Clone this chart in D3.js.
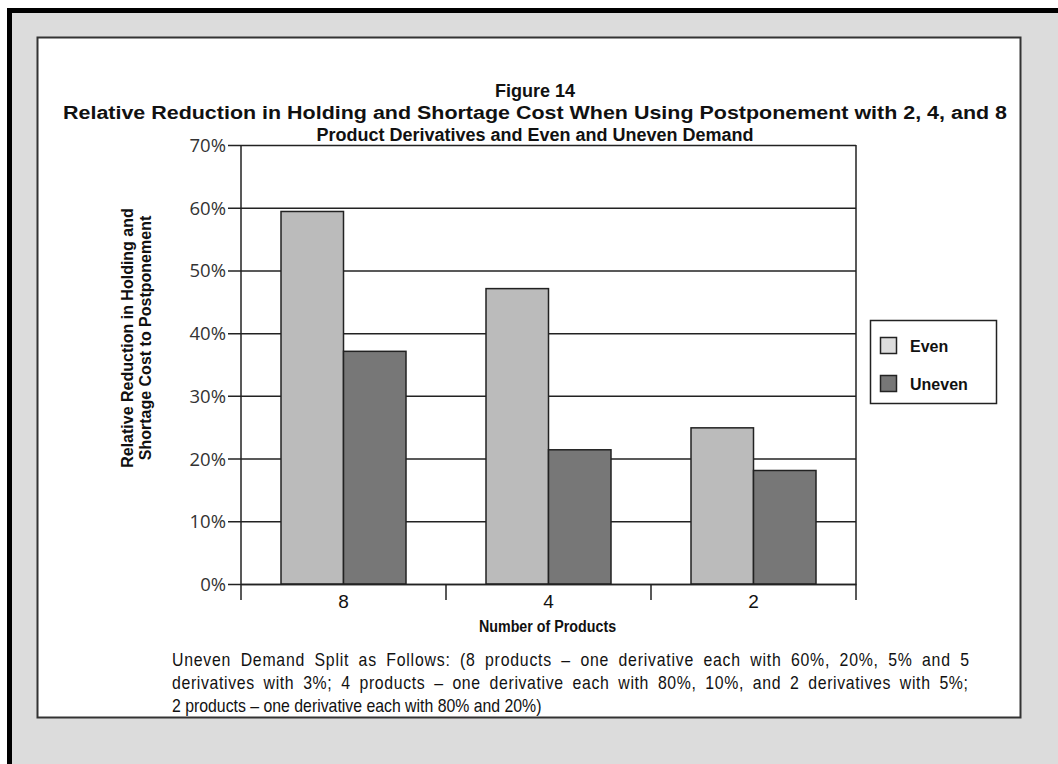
<!DOCTYPE html>
<html>
<head>
<meta charset="utf-8">
<script src="https://cdn.jsdelivr.net/npm/d3@7"></script>
<style>
  html, body { margin: 0; padding: 0; background: #fff; }
  svg { display: block; }
</style>
</head>
<body>
<svg id="chart" width="1058" height="764"></svg>
<script>
// ---- data ----
const categories = ["8", "4", "2"];
const seriesNames = ["Even", "Uneven"];
const evenValues = [59.4, 47.1, 24.9];
const unevenValues = [37.1, 21.4, 18.1];
const yTickValues = [0, 10, 20, 30, 40, 50, 60, 70];
const titleLines = [
  "Figure 14",
  "Relative Reduction in Holding and Shortage Cost When Using Postponement with 2, 4, and 8",
  "Product Derivatives and Even and Uneven Demand"
];
const yLabelLines = ["Relative Reduction in Holding and", "Shortage Cost to Postponement"];
const xLabel = "Number of Products";
const noteLines = [
  "Uneven Demand Split as Follows: (8 products \u2013 one derivative each with 60%, 20%, 5% and 5",
  "derivatives with 3%; 4 products \u2013 one derivative each with 80%, 10%, and 2 derivatives with 5%;",
  "2 products \u2013 one derivative each with 80% and 20%)"
];

const colors = { Even: "#bbbbbb", Uneven: "#777777" };
const legendColors = { Even: "#dddddd", Uneven: "#777777" };
const sans = "'Liberation Sans', Arial, sans-serif";
const tickFont = "'Open Sans', 'Noto Sans', sans-serif";

const svg = d3.select("#chart");

// outer frame
svg.append("rect").attr("x", 9.5).attr("y", 10.5).attr("width", 1058).attr("height", 764)
  .attr("fill", "#dcdcdc").attr("stroke", "#000").attr("stroke-width", 5);
// inner white panel
svg.append("rect").attr("x", 37.5).attr("y", 37.5).attr("width", 983).attr("height", 680)
  .attr("fill", "#fff").attr("stroke", "#333").attr("stroke-width", 2);

// title
const titleWidths = [null, 944, null];
svg.append("g").selectAll("text").data(titleLines).join("text")
  .attr("x", 535).attr("y", (d, i) => 97 + i * 22)
  .attr("text-anchor", "middle")
  .attr("font-family", sans)
  .attr("font-weight", "bold").attr("font-size", 18)
  .attr("fill", "#111")
  .each(function(d, i) {
    if (titleWidths[i]) d3.select(this).attr("textLength", titleWidths[i]).attr("lengthAdjust", "spacingAndGlyphs");
  })
  .text(d => d);

// scales
const plot = { left: 241, right: 856, top: 145, bottom: 584 };
const x0 = d3.scaleBand().domain(categories).range([plot.left, plot.right]);
const x1 = d3.scaleBand().domain(seriesNames).range([40, x0.bandwidth() - 40]);
const y = d3.scaleLinear().domain([0, 70]).range([plot.bottom, plot.top]);

// plot frame (right border)
svg.append("line").attr("x1", plot.right).attr("x2", plot.right)
  .attr("y1", plot.top).attr("y2", plot.bottom + 16)
  .attr("stroke", "#222").attr("stroke-width", 1.5);

// gridlines + y axis
const yAxis = d3.axisLeft(y).tickValues(yTickValues).tickFormat(d => d + "%")
  .tickSize(-(plot.right - plot.left)).tickPadding(6);
const gy = svg.append("g").attr("transform", `translate(${plot.left},0)`).call(yAxis);
gy.attr("font-size", null).attr("font-family", null);
gy.select(".domain").remove();
gy.selectAll(".tick line").attr("stroke", "#222").attr("stroke-width", 1.5).attr("x1", -13);
gy.selectAll(".tick text").attr("font-family", tickFont).style("font-size", "18.5px")
  .attr("fill", "#333").attr("x", -15).attr("dy", "0.35em");
// y axis line
svg.append("line").attr("x1", plot.left).attr("x2", plot.left)
  .attr("y1", plot.top).attr("y2", plot.bottom + 16)
  .attr("stroke", "#222").attr("stroke-width", 1.5);

// bars
const rows = categories.map((c, i) => ({ cat: c, Even: evenValues[i], Uneven: unevenValues[i] }));
const groups = svg.append("g").selectAll("g").data(rows).join("g")
  .attr("transform", d => `translate(${x0(d.cat)},0)`);
groups.selectAll("rect").data(d => seriesNames.map(s => ({ s, v: d[s] }))).join("rect")
  .attr("x", d => x1(d.s)).attr("width", x1.bandwidth())
  .attr("y", d => y(d.v)).attr("height", d => y(0) - y(d.v))
  .attr("fill", d => colors[d.s]).attr("stroke", "#222").attr("stroke-width", 1.5);

// x axis
const gx = svg.append("g").attr("transform", `translate(0,${plot.bottom})`)
  .call(d3.axisBottom(x0).tickSize(0).tickPadding(11));
gx.attr("font-size", null).attr("font-family", null);
gx.select(".domain").attr("stroke", "#222").attr("stroke-width", 1.5);
gx.selectAll(".tick text").attr("font-family", sans).style("font-size", "19px").attr("fill", "#111");
// category boundary ticks
const bounds = categories.map(c => x0(c)).concat([plot.right]);
svg.append("g").selectAll("line").data(bounds.slice(1, -1)).join("line")
  .attr("x1", d => d).attr("x2", d => d).attr("y1", plot.bottom).attr("y2", plot.bottom + 16)
  .attr("stroke", "#222").attr("stroke-width", 1.5);

// x label
svg.append("text")
  .attr("transform", `translate(${(plot.left + plot.right) / 2 - 1},632) scale(0.84,1)`)
  .attr("text-anchor", "middle").attr("font-family", sans)
  .attr("font-weight", "bold").attr("font-size", 17).attr("fill", "#111").text(xLabel);

// y label
svg.append("g").attr("transform", "translate(128,338) rotate(-90)")
  .selectAll("text").data(yLabelLines).join("text")
  .attr("x", 0).attr("y", (d, i) => 5 + i * 18)
  .attr("text-anchor", "middle").attr("font-family", sans)
  .attr("font-weight", "bold").attr("font-size", 16).attr("fill", "#111")
  .text(d => d);

// legend
const lg = svg.append("g");
lg.append("rect").attr("x", 870.5).attr("y", 320.5).attr("width", 126).attr("height", 83)
  .attr("fill", "#fff").attr("stroke", "#222").attr("stroke-width", 1.5);
const li = lg.selectAll("g").data(seriesNames).join("g")
  .attr("transform", (d, i) => `translate(880,${337 + i * 38})`);
li.append("rect").attr("x", 0.5).attr("y", 0.5).attr("width", 16).attr("height", 16)
  .attr("fill", d => legendColors[d]).attr("stroke", "#222").attr("stroke-width", 1.5);
li.append("text").attr("x", 30).attr("y", 15).attr("font-family", sans)
  .attr("font-weight", "bold").attr("font-size", 16).attr("fill", "#111").text(d => d);

// note (first two lines justified: extra width shared by letter and word spacing)
const noteScale = 0.88;
const noteWidths = [797, 796, null];
svg.append("g").attr("transform", `translate(172,0) scale(${noteScale},1)`)
  .selectAll("text").data(noteLines).join("text")
  .attr("x", 0).attr("y", (d, i) => 666 + i * 23)
  .attr("font-family", sans).attr("font-size", 18).attr("fill", "#111")
  .text(d => d)
  .each(function(d, i) {
    if (!noteWidths[i]) return;
    const natural = this.getComputedTextLength();
    const extra = noteWidths[i] / noteScale - natural;
    const spaces = (d.match(/ /g) || []).length;
    const ls = (extra * 0.5) / (d.length - 1);
    const ws = (extra * 0.5) / spaces;
    d3.select(this).attr("letter-spacing", ls).attr("word-spacing", ws);
  });
</script>
</body>
</html>
